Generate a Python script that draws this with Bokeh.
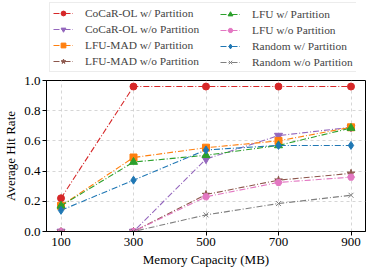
from bokeh.plotting import figure
from bokeh.layouts import column
from bokeh.models import Legend, LegendItem, Range1d, FixedTicker, NumeralTickFormatter
from bokeh.embed import file_html
from bokeh.resources import INLINE

capacity = [100, 300, 500, 700, 900]
cocar_w = [0.22, 0.96, 0.96, 0.96, 0.96]
cocar_wo = [0.0, 0.0, 0.48, 0.635, 0.69]
lfumad_w = [0.17, 0.49, 0.555, 0.60, 0.69]
lfumad_wo = [0.0, 0.0, 0.245, 0.34, 0.385]
lfu_w = [0.17, 0.46, 0.505, 0.57, 0.685]
lfu_wo = [0.0, 0.0, 0.23, 0.325, 0.36]
random_w = [0.14, 0.34, 0.54, 0.57, 0.57]
random_wo = [0.0, 0.0, 0.11, 0.185, 0.24]

labels = ["CoCaR-OL w/ Partition", "CoCaR-OL w/o Partition", "LFU-MAD w/ Partition",
          "LFU-MAD w/o Partition", "LFU w/ Partition", "LFU w/o Partition",
          "Random w/ Partition", "Random w/o Partition"]
series = [cocar_w, cocar_wo, lfumad_w, lfumad_wo, lfu_w, lfu_wo, random_w, random_wo]
colors = ["#d62728", "#9467bd", "#ff7f0e", "#8c564b", "#2ca02c", "#e377c2", "#1f77b4", "#7f7f7f"]
markers = ["circle", "inverted_triangle", "square", "star", "triangle", "hex", "diamond", "x"]
sizes = [7, 8, 7, 8, 8, 7, 8, 7]

FONT = "Liberation Serif"
DASH = "6 2 1 2"

# main chart
p = figure(frame_width=319, frame_height=151, output_backend="svg", toolbar_location=None,
           x_range=Range1d(60, 940), y_range=Range1d(0, 1.0),
           min_border_left=37, min_border_right=1, min_border_top=8, min_border_bottom=30)

for ys, c, m, s in zip(series, colors, markers, sizes):
    p.line(capacity, ys, line_color=c, line_width=1.1, line_dash=DASH)
    p.scatter(capacity, ys, marker=m, size=s, fill_color=c, line_color=c)

p.outline_line_color = "black"
p.outline_line_width = 1
p.xgrid.grid_line_color = "#cccccc"
p.ygrid.grid_line_color = "#cccccc"
p.xgrid.grid_line_dash = "3 3"
p.ygrid.grid_line_dash = "3 3"
p.xgrid.grid_line_alpha = 0.8
p.ygrid.grid_line_alpha = 0.8

p.xaxis.ticker = FixedTicker(ticks=capacity)
p.yaxis.ticker = FixedTicker(ticks=[0.0, 0.2, 0.4, 0.6, 0.8, 1.0])
p.yaxis.formatter = NumeralTickFormatter(format="0.0")
p.xaxis.axis_label = "Memory Capacity (MB)"
p.yaxis.axis_label = "Average Hit Rate"
for ax in (p.xaxis[0], p.yaxis[0]):
    ax.axis_label_text_font = FONT
    ax.axis_label_text_font_size = "13px"
    ax.axis_label_text_font_style = "normal"
    ax.major_label_text_font = FONT
    ax.major_label_text_font_size = "13px"
    ax.major_label_text_color = "black"
    ax.axis_label_text_color = "black"
    ax.minor_tick_line_color = None
    ax.major_tick_in = 0
    ax.major_tick_out = 4
    ax.axis_line_color = "black"
    ax.major_tick_line_color = "black"
    ax.axis_label_standoff = 3
    ax.major_label_standoff = 2

# legend strip above the chart (series drawn off-range, only their legend samples show)
leg = figure(width=357, height=72, output_backend="svg", toolbar_location=None,
             x_range=Range1d(-10, -9), y_range=Range1d(-10, -9),
             x_axis_location=None, y_axis_location=None,
             min_border_left=0, min_border_right=0, min_border_top=0, min_border_bottom=0)
leg.grid.visible = False
leg.outline_line_color = None

items = []
for lab, ys, c, m, s in zip(labels, series, colors, markers, sizes):
    r1 = leg.line(capacity, ys, line_color=c, line_width=1.1, line_dash=DASH)
    r2 = leg.scatter(capacity, ys, marker=m, size=s - 1, fill_color=c, line_color=c)
    items.append(LegendItem(label=lab, renderers=[r1, r2]))

common = dict(label_text_font=FONT, label_text_font_size="11.4px",
              glyph_width=20, glyph_height=12, label_height=14, spacing=2,
              label_standoff=12, padding=3, margin=0)
# the column layout aligns this strip's frame with the chart frame (x offset 37)
leg_a = Legend(items=items[:4], location=(3, 0), label_width=270,
               border_line_color="#d9d9d9", border_line_width=1,
               background_fill_color="white", background_fill_alpha=1.0, **common)
leg_b = Legend(items=items[4:], location=(174, 3),
               border_line_color=None, background_fill_alpha=0.0, **common)
leg.add_layout(leg_a)
leg.add_layout(leg_b)

layout = column(leg, p, spacing=0)
open("out.html", "w").write(file_html(layout, INLINE))
